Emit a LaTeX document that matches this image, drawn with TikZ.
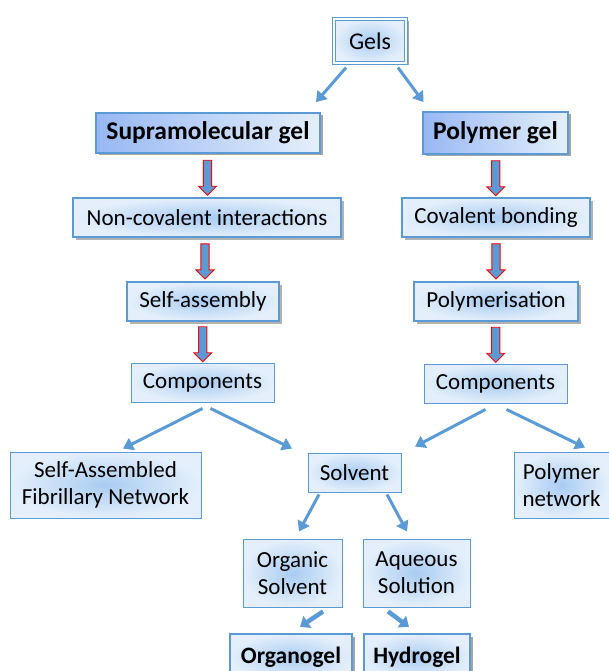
\documentclass[tikz,border=0pt]{standalone}
\usepackage{fontspec}
\setmainfont{Carlito}
\usetikzlibrary{shapes.arrows,shadows,arrows.meta,calc}
\definecolor{bord}{HTML}{5B9BD5}
\definecolor{inC}{HTML}{A9CCF2}
\definecolor{outC}{HTML}{E4EFFB}
\definecolor{arrC}{HTML}{5B9BD5}
\tikzset{
  box/.style={draw=bord, line width=0.9pt, shading=radial, inner color=inC, outer color=outC,
    font=\fontsize{23}{27}\selectfont, inner sep=0pt, align=center},
  boldbox/.style={box, line width=1.8pt, font=\fontsize{25.5}{29}\selectfont\bfseries,
    left color=inC!90!blue, right color=outC, shading=axis,
    drop shadow={shadow xshift=2.5pt, shadow yshift=-2.5pt, fill=black, opacity=0.35}},
  shbox/.style={box, line width=1.2pt,
    drop shadow={shadow xshift=2.5pt, shadow yshift=-2.5pt, fill=black, opacity=0.3}},
  redarrow/.style={single arrow, draw=red, line width=0.9pt, fill=arrC, rotate=-90,
    minimum height=35pt, minimum width=18pt, single arrow head extend=3.5pt,
    single arrow head indent=0pt, inner sep=2.5pt},
  conn/.style={draw=arrC, line width=3pt, -{Triangle[length=10pt,width=13pt]}},
  thconn/.style={draw=arrC, line width=4.5pt, -{Triangle[length=9pt,width=14pt]}}
}
\begin{document}
\begin{tikzpicture}[x=1pt,y=-1pt]
\useasboundingbox (0,0) rectangle (609,671);
% boxes
\node[box, line width=1.2pt, double=white, double distance=1.5pt,
  font=\fontsize{24}{28}\selectfont,
  drop shadow={shadow xshift=2.5pt, shadow yshift=-2.5pt, fill=black, opacity=0.35},
  minimum width=72pt, minimum height=44pt] (gels) at (370,41) {Gels};
\node[boldbox, minimum width=224pt, minimum height=40pt] (sup) at (208,133) {Supramolecular gel};
\node[boldbox, minimum width=145pt, minimum height=42pt] (pol) at (495.5,133) {Polymer gel};
\node[shbox, minimum width=268pt, minimum height=39pt] (nci) at (207,217.5) {Non-covalent interactions};
\node[shbox, minimum width=188pt, minimum height=39pt] (cov) at (496,217.5) {Covalent bonding};
\node[shbox, line width=1.8pt, minimum width=152pt, minimum height=39pt] (sa) at (203,301.5) {Self-assembly};
\node[shbox, line width=1.8pt, minimum width=164pt, minimum height=39pt] (polm) at (496,301.5) {Polymerisation};
\node[box, minimum width=143pt, minimum height=39pt] (compL) at (202.5,382.5) {Components};
\node[box, minimum width=143pt, minimum height=39pt] (compR) at (495.5,383.5) {Components};
\node[box, minimum width=191pt, minimum height=66pt] (safn) at (105.5,485) {Self-Assembled\\Fibrillary Network};
\node[box, minimum width=93pt, minimum height=39pt] (solv) at (354.5,472.5) {Solvent};
\node[box, minimum width=95pt, minimum height=66pt] (pnet) at (561.5,485) {Polymer\\network};
\node[box, minimum width=99pt, minimum height=68pt] (org) at (292.5,573) {Organic\\Solvent};
\node[box, minimum width=107pt, minimum height=68pt] (aq) at (416.5,573) {Aqueous\\Solution};
\node[boldbox, line width=2.2pt, shading=radial, inner color=inC, outer color=outC,
  font=\fontsize{23.5}{27}\selectfont\bfseries,
  minimum width=122pt, minimum height=46pt] (ogel) at (291,657) {Organogel};
\node[boldbox, line width=2.2pt, shading=radial, inner color=inC, outer color=outC,
  font=\fontsize{23.5}{27}\selectfont\bfseries,
  minimum width=106pt, minimum height=46pt] (hgel) at (417,657) {Hydrogel};
% red block arrows
\node[redarrow] (r1) at ($(sup.south)!0.5!(nci.north)$) {};
\node[redarrow] (r2) at ($(nci.south)!0.5!(sa.north)$) {};
\node[redarrow] (r3) at ($(sa.south)!0.5!(compL.north)$) {};
\node[redarrow] (r4) at ($(pol.south)!0.5!(cov.north)$) {};
\node[redarrow] (r5) at ($(cov.south)!0.5!(polm.north)$) {};
\node[redarrow] (r6) at ($(polm.south)!0.5!(compR.north)$) {};
% blue connectors
\draw[conn] ([xshift=-24pt,yshift=-4pt]gels.south) -- ([xshift=108pt,yshift=10pt]sup.north);
\draw[conn] ([xshift=28pt,yshift=-4pt]gels.south) -- ([xshift=-72pt,yshift=9pt]pol.north);
\draw[conn] ([xshift=0pt,yshift=-6pt]compL.south) -- ([xshift=17.5pt,yshift=3pt]safn.north);
\draw[conn] ([xshift=8pt,yshift=-6pt]compL.south) -- ([xshift=-62.5pt,yshift=4pt]solv.north);
\draw[conn] ([xshift=-10pt,yshift=-6pt]compR.south) -- ([xshift=60.5pt,yshift=6pt]solv.north);
\draw[conn] ([xshift=11pt,yshift=-6pt]compR.south) -- ([xshift=23.5pt,yshift=4pt]pnet.north);
\draw[conn] ([xshift=-35.5pt,yshift=-2pt]solv.south) -- ([xshift=6.5pt,yshift=7pt]org.north);
\draw[conn] ([xshift=32.5pt,yshift=-2pt]solv.south) -- ([xshift=-9.5pt,yshift=7pt]aq.north);
\draw[thconn] ([xshift=30.5pt,yshift=-4pt]org.south) -- ([xshift=9pt,yshift=6pt]ogel.north);
\draw[thconn] ([xshift=-28.5pt,yshift=-4pt]aq.south) -- ([xshift=-8pt,yshift=6pt]hgel.north);
\end{tikzpicture}
\end{document}
